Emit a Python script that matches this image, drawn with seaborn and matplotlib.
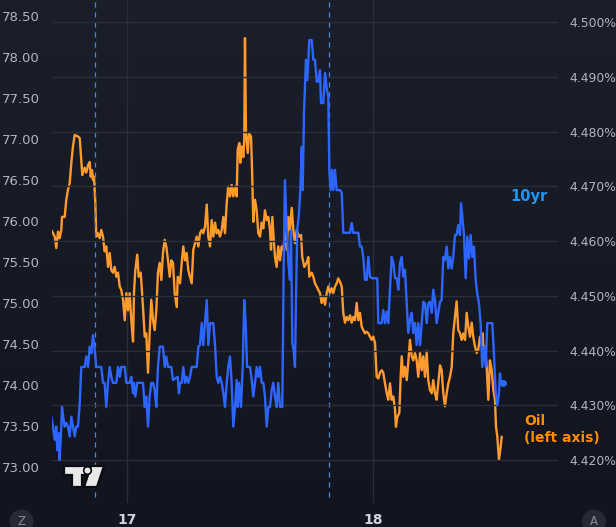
import numpy as np
import pandas as pd
import matplotlib
matplotlib.use("Agg")
import matplotlib.pyplot as plt
import matplotlib.patches as mpatches
import seaborn as sns

# ------ DATA ------ #
# hours relative to the 17th, 00:00

oil_hours = [
    -7.39, -7.05, -6.90, -6.73, -6.57, -6.41, -6.34, -6.08, -5.92, -5.76, -5.59, -5.43, -5.27, -5.10,
    -4.78, -4.61, -4.46, -4.36, -4.13, -3.97, -3.80, -3.64, -3.54, -3.41, -3.32, -3.22, -3.09, -3.00,
    -2.83, -2.66, -2.51, -2.34, -2.18, -2.02, -1.85, -1.69, -1.53, -1.37, -1.20, -1.04, -0.88, -0.71,
    -0.56, -0.39, -0.22, -0.07, 0.10, 0.26, 0.42, 0.59, 0.68, 0.81, 1.00, 1.14, 1.34, 1.56, 1.73,
    1.88, 2.05, 2.21, 2.37, 2.54, 2.70, 2.86, 3.02, 3.19, 3.35, 3.51, 3.68, 3.83, 4.00, 4.17, 4.32,
    4.49, 4.65, 4.85, 4.95, 5.17, 5.34, 5.49, 5.66, 5.82, 5.98, 6.15, 6.31, 6.47, 6.63, 6.80, 6.96,
    7.12, 7.29, 7.44, 7.61, 7.78, 7.93, 8.10, 8.26, 8.42, 8.59, 8.75, 8.91, 9.07, 9.24, 9.40, 9.56,
    9.73, 9.88, 10.05, 10.21, 10.37, 10.54, 10.70, 10.80, 10.96, 11.05, 11.19, 11.35, 11.44, 11.51,
    11.61, 11.78, 11.90, 12.10, 12.22, 12.32, 12.49, 12.65, 12.81, 12.98, 13.14, 13.30, 13.46, 13.63,
    13.79, 13.95, 14.05, 14.18, 14.34, 14.44, 14.60, 14.76, 14.93, 15.09, 15.25, 15.41, 15.58, 15.74,
    15.90, 16.07, 16.23, 16.39, 16.56, 16.78, 16.98, 17.10, 17.30, 17.53, 17.69, 17.79, 18.02, 18.18,
    18.34, 18.51, 18.66, 18.83, 18.99, 19.15, 19.32, 19.48, 19.64, 19.80, 19.97, 20.13, 20.29, 20.46,
    20.61, 20.78, 20.95, 21.10, 21.27, 21.43, 21.59, 21.76, 21.92, 22.08, 22.24, 22.41, 22.57, 22.73,
    22.90, 23.05, 23.22, 23.39, 23.54, 23.71, 23.87, 24.03, 24.20, 24.36, 24.52, 24.68, 24.85, 25.00,
    25.17, 25.34, 25.49, 25.66, 25.82, 25.98, 26.15, 26.24, 26.37, 26.57, 26.70, 26.80, 26.96, 27.12,
    27.29, 27.44, 27.61, 27.78, 27.93, 28.10, 28.26, 28.42, 28.59, 28.75, 28.91, 29.07, 29.24, 29.39,
    29.56, 29.73, 29.88, 30.05, 30.21, 30.37, 30.54, 30.70, 30.86, 31.02, 31.19, 31.35, 31.51, 31.68,
    31.83, 32.00, 32.16, 32.32, 32.49, 32.65, 32.81, 32.98, 33.14, 33.30, 33.46, 33.63, 33.78, 33.95,
    34.12, 34.27, 34.44, 34.60, 34.70, 34.76, 34.93, 35.09, 35.25, 35.41, 35.58, 35.74, 35.90, 36.00,
    36.13, 36.29, 36.46, 36.56,
]
oil_price = [
    75.89, 75.81, 75.67, 75.87, 75.79, 75.89, 76.05, 76.05, 76.26, 76.38, 76.46, 76.71, 76.91, 77.05,
    77.03, 77.01, 76.74, 76.56, 76.65, 76.59, 76.68, 76.72, 76.54, 76.62, 76.50, 76.54, 76.22, 75.81,
    75.85, 75.79, 75.89, 75.81, 75.63, 75.69, 75.44, 75.61, 75.40, 75.37, 75.44, 75.32, 75.37, 75.20,
    75.16, 75.04, 74.79, 75.12, 74.91, 75.12, 74.79, 74.53, 75.12, 75.40, 75.59, 75.32, 75.37, 74.95, 74.59,
    74.63, 74.15, 74.63, 75.04, 74.79, 74.67, 74.91, 75.37, 75.49, 75.28, 75.61, 75.77, 75.69, 75.52, 75.32, 75.52,
    75.49, 75.12, 74.95, 75.32, 75.24, 75.49, 75.69, 75.52, 75.61, 75.40, 75.32, 75.24, 75.65, 75.73, 75.81, 75.69,
    75.85, 75.89, 75.85, 75.93, 76.20, 75.81, 75.69, 76.01, 75.81, 75.98, 75.85, 75.89, 75.81, 75.89, 76.05, 75.85,
    76.22, 76.42, 76.30, 76.44, 76.30, 76.42, 76.30, 76.87, 76.95, 76.71, 76.91, 76.78, 76.99, 78.23,
    77.07, 76.83, 77.07, 77.03, 76.54, 75.99, 76.26, 76.13, 75.85, 75.81, 75.98, 75.91, 76.13, 76.01,
    76.05, 75.89, 75.65, 76.05, 75.73, 75.56, 75.44, 75.69, 75.52, 75.69, 75.65, 75.85, 75.65, 76.05,
    75.89, 76.16, 75.89, 75.73, 75.89, 75.81, 75.83, 75.56, 75.44, 75.49, 75.56, 75.32, 75.37, 75.32,
    75.24, 75.20, 75.16, 75.12, 75.00, 75.08, 74.98, 75.12, 75.20, 75.12, 75.18, 75.12, 75.20, 75.24,
    75.30, 75.26, 75.20, 74.88, 74.76, 74.83, 74.79, 74.85, 74.76, 74.83, 74.79, 75.00, 74.79, 74.88,
    74.71, 74.67, 74.63, 74.65, 74.63, 74.59, 74.55, 74.59, 74.51, 74.10, 74.08, 74.15, 74.18, 74.15,
    74.02, 73.90, 73.82, 74.02, 73.82, 73.86, 73.70, 73.49, 73.61, 73.66, 74.10, 74.35, 74.10, 74.22,
    74.06, 74.27, 74.55, 74.35, 74.30, 74.39, 74.30, 74.10, 74.39, 74.18, 74.35, 74.10, 74.41, 74.06,
    73.94, 73.90, 74.06, 73.90, 73.82, 74.02, 74.24, 74.18, 73.90, 73.74, 73.90, 74.02, 74.10, 74.22,
    74.63, 74.83, 75.02, 74.67, 74.63, 74.55, 74.63, 74.55, 74.88, 74.71, 74.59, 74.76, 74.59, 74.47,
    74.39, 74.43, 74.59, 74.51, 74.63, 74.43, 74.47, 74.22, 73.82, 74.30, 74.18, 73.94, 73.82, 73.49,
    73.37, 73.09, 73.25, 73.37,
]

yield_hours = [
    -7.39, -7.22, -7.05, -6.90, -6.80, -6.66, -6.57, -6.41, -6.34, -6.18, -6.08, -5.92, -5.76, -5.59,
    -5.43, -5.27, -5.10, -4.95, -4.78, -4.61, -4.46, -4.13, -3.97, -3.80, -3.64, -3.48, -3.32, -3.15,
    -3.00, -2.66, -2.51, -2.34, -2.18, -2.02, -1.85, -1.69, -1.53, -1.37, -1.04, -0.88, -0.71, -0.56,
    -0.22, -0.07, 0.26, 0.42, 0.59, 0.68, 0.81, 1.00, 1.56, 1.73, 1.88, 2.05, 2.21, 2.37, 2.54, 2.70,
    2.86, 3.02, 3.19, 3.51, 3.68, 3.83, 4.00, 4.32, 4.49, 4.95, 5.07, 5.17, 5.34, 5.49, 5.66, 5.82,
    5.98, 6.15, 6.31, 6.80, 6.96, 7.12, 7.29, 7.44, 7.61, 7.78, 7.93, 8.10, 8.42, 8.59, 8.75, 8.91,
    9.07, 9.24, 9.40, 9.56, 9.73, 9.88, 10.05, 10.21, 10.37, 10.54, 10.70, 10.80, 10.93, 11.12, 11.29,
    11.44, 11.58, 11.71, 12.00, 12.17, 12.32, 12.49, 12.65, 12.81, 12.98, 13.14, 13.30, 13.46, 13.63,
    13.79, 13.95, 14.12, 14.27, 14.44, 14.60, 14.76, 14.93, 15.15, 15.29, 15.41, 15.58, 15.74, 15.90,
    16.00, 16.13, 16.26, 16.39, 16.49, 16.61, 16.78, 16.91, 17.05, 17.14, 17.27, 17.46, 17.59, 17.79,
    18.02, 18.18, 18.34, 18.51, 18.66, 18.83, 18.93, 19.15, 19.32, 19.48, 19.64, 19.74, 19.87, 20.00,
    20.13, 20.29, 20.46, 20.78, 20.95, 21.10, 21.76, 21.92, 22.08, 22.57, 22.73, 22.90, 23.05, 23.22,
    23.39, 23.54, 23.71, 23.87, 24.42, 24.52, 24.85, 25.00, 25.17, 25.34, 25.49, 25.66, 25.82, 25.98,
    26.15, 26.32, 26.47, 26.63, 26.80, 26.96, 27.12, 27.29, 27.44, 27.61, 27.78, 27.93, 28.10, 28.26,
    28.42, 28.59, 28.75, 28.91, 29.07, 29.24, 29.39, 29.56, 29.73, 29.88, 30.05, 30.21, 30.37, 30.54,
    30.70, 30.86, 31.02, 31.19, 31.35, 31.51, 31.68, 31.83, 32.00, 32.16, 32.32, 32.49, 32.59, 32.75,
    32.88, 33.04, 33.20, 33.37, 33.53, 33.69, 33.85, 34.02, 34.17, 34.34, 34.50, 34.66, 34.83, 35.00,
    35.15, 35.64, 35.80, 35.97, 36.13, 36.29, 36.39, 36.49, 36.71,
]
yield_pct = [
    4.4279, 4.4261, 4.4237, 4.4261, 4.4218, 4.4249, 4.4200, 4.4261, 4.4297, 4.4273, 4.4261, 4.4268, 4.4261, 4.4243,
    4.4279, 4.4261, 4.4243, 4.4261, 4.4261, 4.4304, 4.4370, 4.4370, 4.4389, 4.4370, 4.4407, 4.4395, 4.4428, 4.4401,
    4.4370, 4.4370, 4.4370, 4.4341, 4.4341, 4.4297, 4.4341, 4.4370, 4.4352, 4.4341, 4.4341, 4.4370, 4.4352, 4.4370,
    4.4370, 4.4341, 4.4341, 4.4352, 4.4322, 4.4341, 4.4316, 4.4341, 4.4341, 4.4297, 4.4316, 4.4261, 4.4316, 4.4341, 4.4341, 4.4328,
    4.4297, 4.4370, 4.4407, 4.4407, 4.4370, 4.4389, 4.4370, 4.4370, 4.4346, 4.4352, 4.4322, 4.4341, 4.4341, 4.4370, 4.4341, 4.4352,
    4.4341, 4.4352, 4.4370, 4.4370, 4.4407, 4.4410, 4.4450, 4.4410, 4.4450, 4.4492, 4.4410, 4.4450, 4.4450, 4.4410, 4.4352, 4.4341,
    4.4352, 4.4341, 4.4322, 4.4297, 4.4341, 4.4370, 4.4389, 4.4341, 4.4261, 4.4297, 4.4346, 4.4297, 4.4341, 4.4297, 4.4370,
    4.4492, 4.4450, 4.4370, 4.4370, 4.4346, 4.4316, 4.4341, 4.4370, 4.4352, 4.4370, 4.4341, 4.4341, 4.4316, 4.4261,
    4.4297, 4.4297, 4.4328, 4.4341, 4.4316, 4.4297, 4.4341, 4.4297, 4.4297, 4.4560, 4.4711, 4.4620, 4.4560, 4.4529,
    4.4620, 4.4414, 4.4401, 4.4370, 4.4498, 4.4620, 4.4651, 4.4693, 4.4772, 4.4693, 4.4834, 4.4931, 4.4894, 4.4967,
    4.4967, 4.4931, 4.4931, 4.4891, 4.4891, 4.4912, 4.4852, 4.4852, 4.4907, 4.4879, 4.4864, 4.4730, 4.4693, 4.4730,
    4.4693, 4.4730, 4.4693, 4.4693, 4.4688, 4.4615, 4.4615, 4.4633, 4.4615, 4.4615, 4.4590, 4.4590, 4.4571, 4.4529,
    4.4529, 4.4571, 4.4535, 4.4532, 4.4532, 4.4450, 4.4450, 4.4474, 4.4450, 4.4471, 4.4450, 4.4511, 4.4571, 4.4560,
    4.4532, 4.4532, 4.4511, 4.4560, 4.4571, 4.4535, 4.4547, 4.4487, 4.4432, 4.4456, 4.4469, 4.4432, 4.4450, 4.4410,
    4.4450, 4.4410, 4.4450, 4.4489, 4.4486, 4.4450, 4.4486, 4.4489, 4.4469, 4.4511, 4.4492, 4.4450, 4.4469, 4.4489,
    4.4492, 4.4571, 4.4565, 4.4590, 4.4550, 4.4571, 4.4550, 4.4571, 4.4611, 4.4611, 4.4629, 4.4611, 4.4669, 4.4638,
    4.4611, 4.4532, 4.4608, 4.4568, 4.4611, 4.4571, 4.4590, 4.4529, 4.4504, 4.4486, 4.4450, 4.4370, 4.4407, 4.4370,
    4.4450, 4.4450, 4.4395, 4.4322, 4.4300, 4.4322, 4.4358, 4.4340, 4.4340,
]

day_ticks = [0, 24]
day_labels = ["17", "18"]
session_marks = [-3.12, 19.71]
oil_ticks = [73.0, 73.5, 74.0, 74.5, 75.0, 75.5, 76.0, 76.5, 77.0, 77.5, 78.0, 78.5]
yield_ticks = [4.42, 4.43, 4.44, 4.45, 4.46, 4.47, 4.48, 4.49, 4.50]

oil_df = pd.DataFrame({"hours": oil_hours, "price": oil_price})
yield_df = pd.DataFrame({"hours": yield_hours, "pct": yield_pct})

# ------ STYLE ------ #

ORANGE = "#ff9a2c"
BLUE = "#2d66ff"
TXT = "#b2b5be"
GRID = "#2a2e39"

sns.set_theme(style="dark", rc={
    "axes.facecolor": "none",
    "figure.facecolor": "#161a25",
    "axes.edgecolor": "none",
})
plt.rcParams["font.family"] = ["DejaVu Sans"]

fig = plt.figure(figsize=(6.16, 5.27), dpi=100)

# background gradient
bg = fig.add_axes([0, 0, 1, 1], zorder=-5)
grad = np.linspace(0, 1, 256).reshape(-1, 1)
top = np.array([27, 31, 43]) / 255
bot = np.array([18, 21, 31]) / 255
bg.imshow(top + (bot - top) * grad[..., None], aspect="auto", extent=[0, 1, 0, 1])
bg.set_axis_off()

ax = fig.add_axes([52 / 616, 24 / 527, 506 / 616, 503 / 527])
ax2 = ax.twinx()

# ------ PLOT ------ #

sns.lineplot(data=oil_df, x="hours", y="price", ax=ax, color=ORANGE,
             linewidth=1.7, estimator=None, sort=False)
sns.lineplot(data=yield_df, x="hours", y="pct", ax=ax2, color=BLUE,
             linewidth=1.7, estimator=None, sort=False)
ax2.plot(yield_hours[-1], yield_pct[-1], "o", color=BLUE, markersize=4)

for m in session_marks:
    ax.axvline(m, ymin=0.012, color="#4f86de", linewidth=0.9, linestyle=(0, (4, 4)))

ax.set_xlim(-7.317, 42.05)
ax.set_ylim(72.561, 78.695)
ax2.set_ylim(4.41215, 4.50402)

ax.set_xticks(day_ticks)
ax.set_xticklabels(day_labels)
ax.set_yticks(oil_ticks)
ax.set_yticklabels([f"{v:.2f}" for v in oil_ticks])
ax2.set_yticks(yield_ticks)
ax2.set_yticklabels([f"{v:.3f}%" for v in yield_ticks])

ax.grid(False)
ax.xaxis.grid(True, color=GRID, linewidth=1)
ax2.grid(False)
ax2.yaxis.grid(True, color=GRID, linewidth=1)
ax.set_axisbelow(True)
ax.set_xlabel("")
ax.set_ylabel("")
ax2.set_ylabel("")

ax.tick_params(axis="y", length=0, pad=8.6, labelsize=9.5, labelcolor=TXT)
ax.tick_params(axis="x", length=0, pad=7, labelsize=10, labelcolor="#d1d4dc")
ax2.tick_params(axis="y", length=0, pad=8.0, labelsize=8.9, labelcolor=TXT)
for lbl in ax.get_xticklabels():
    lbl.set_fontweight("bold")

for a in (ax, ax2):
    for s in a.spines.values():
        s.set_visible(False)

ax2.text(0.905, 0.610, "10yr", transform=ax2.transAxes, color="#2196f3",
         fontsize=10.5, fontweight="bold", va="center", ha="left")
ax2.text(0.933, 0.146, "Oil\n(left axis)", transform=ax2.transAxes, color="#ff8c00",
         fontsize=10, fontweight="bold", va="center", ha="left", linespacing=1.25)

# ------ DECORATIONS (logo, scale buttons) ------ #

ov = fig.add_axes([0, 0, 1, 1], zorder=10)
ov.set_xlim(0, 616)
ov.set_ylim(527, 0)
ov.set_axis_off()
ov.patch.set_alpha(0)

logo_parts = [
    [(64, 466), (86, 466), (86, 475), (82, 475), (82, 487), (72, 487), (72, 475), (64, 475)],
    [(91, 466), (104, 466), (97, 487), (84, 487)],
]
for pts in logo_parts:
    ov.add_patch(mpatches.Polygon(pts, closed=True, facecolor="#e9e9ea",
                                  edgecolor="#0b0c10", linewidth=1.6))
ov.add_patch(mpatches.Circle((87.5, 470.5), 3.8, facecolor="#e9e9ea",
                             edgecolor="#0b0c10", linewidth=1.2))

for cx, letter in [(21.5, "Z"), (594, "A")]:
    ov.add_patch(mpatches.Circle((cx, 521.5), 12, facecolor="#262a35", edgecolor="none"))
    ov.text(cx, 521.5, letter, color="#8a8d96", fontsize=8.5, ha="center", va="center")

fig.savefig("out.png", dpi=100)
